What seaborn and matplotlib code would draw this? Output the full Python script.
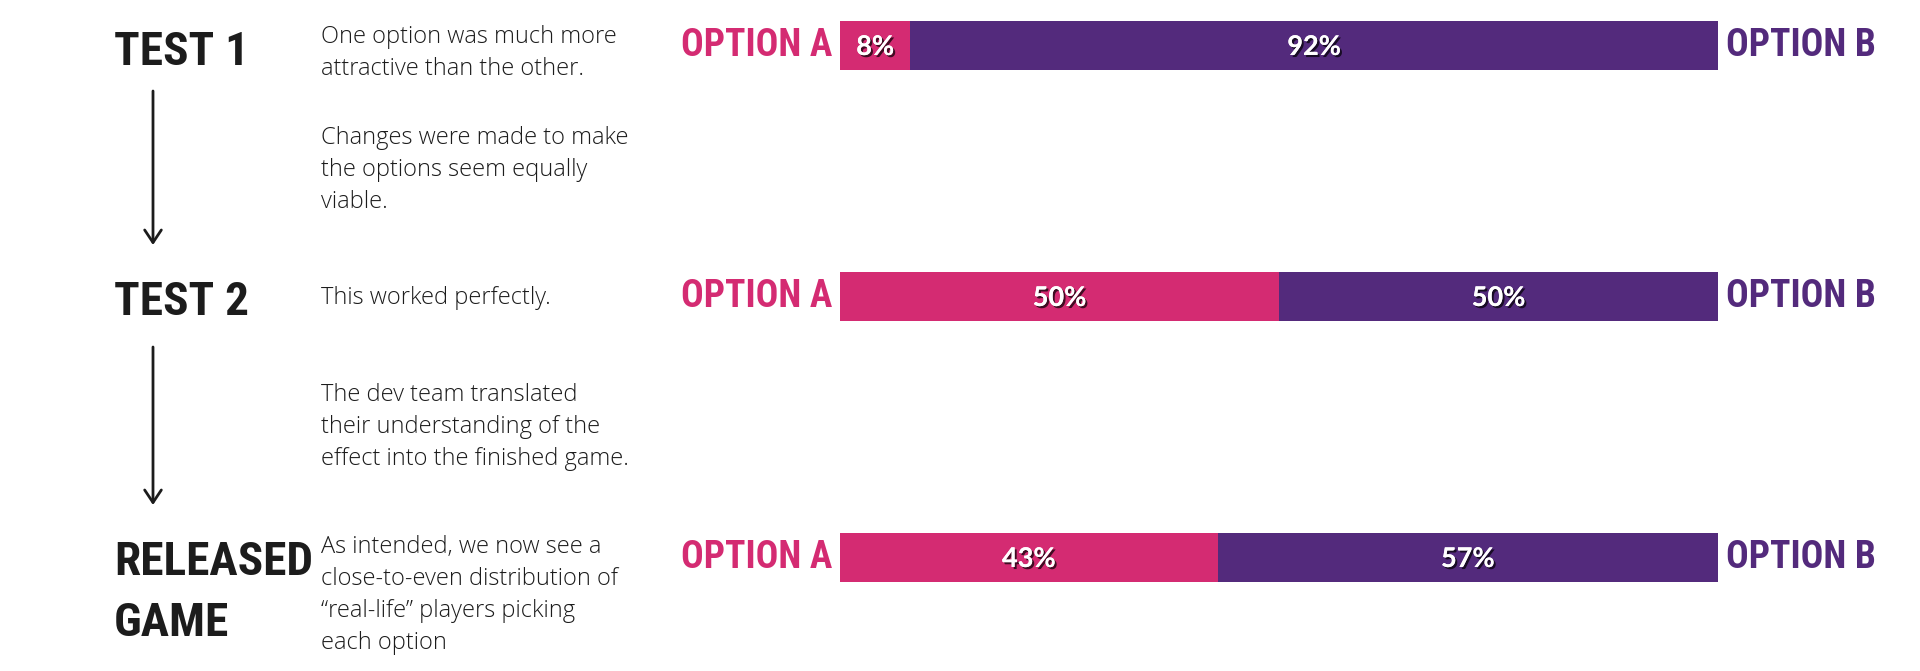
import matplotlib
matplotlib.use("Agg")
import matplotlib.pyplot as plt
import matplotlib.patheffects as pe
from matplotlib.patches import FancyArrowPatch
import pandas as pd
import seaborn as sns

# --- data -------------------------------------------------------------
stages = ["TEST 1", "TEST 2", "RELEASED\nGAME"]
option_a = [8, 50, 43]
option_b = [92, 50, 57]
label_a = "OPTION A"
label_b = "OPTION B"

stage_notes = [
    "One option was much more\nattractive than the other.",
    "This worked perfectly.",
    "As intended, we now see a\nclose-to-even distribution of\n\u201creal-life\u201d players picking\neach option",
]
step_notes = [
    "Changes were made to make\nthe options seem equally\nviable.",
    "The dev team translated\ntheir understanding of the\neffect into the finished game.",
]

PINK = "#D42B72"
PURPLE = "#532A7C"
INK = "#1C1C1C"

sns.set_style("white")
plt.rcParams["font.family"] = ["DejaVu Sans"]

HEAD_FONT = ["Roboto Condensed", "Liberation Sans"]
BODY_FONT = ["Open Sans", "DejaVu Sans"]
PCT_FONT = ["Lato", "DejaVu Sans"]

W, H = 1920, 671
fig = plt.figure(figsize=(W / 100, H / 100), dpi=100, facecolor="white")


def fx(px):
    return px / W


def fy(py):
    return 1 - py / H


# layout of each row (pixels from top)
bar_top = [21, 272, 533]
bar_h = 49
bar_left, bar_w = 840, 878
head_base = [65, 315, 575]
note_base = [43, 304, 553]
step_base = [144, 401]
arrows = [(91, 245), (347, 505)]
line_gap = 32

for i, stage in enumerate(stages):
    ax = fig.add_axes([fx(bar_left), fy(bar_top[i] + bar_h), bar_w / W, bar_h / H])
    df = pd.DataFrame({"stage": [stage], "a": [option_a[i]],
                       "total": [option_a[i] + option_b[i]]})
    sns.barplot(data=df, x="total", y="stage", color=PURPLE, width=1,
                saturation=1, linewidth=0, orient="h", ax=ax)
    sns.barplot(data=df, x="a", y="stage", color=PINK, width=1,
                saturation=1, linewidth=0, orient="h", ax=ax)
    ax.set_xlim(0, 100)
    ax.set_ylim(0.5, -0.5)
    ax.axis("off")

    shadow = [pe.withSimplePatchShadow(offset=(1.5, -1.5), shadow_rgbFace="black", alpha=0.7),
              pe.Normal()]
    a, b = option_a[i], option_b[i]
    for xc, v in [(a / 2, a), (a + b / 2, b)]:
        ax.text(xc, 0.03, f"{v}%", ha="center", va="center", color="white",
                fontsize=19.5, fontweight="bold", family=PCT_FONT, path_effects=shadow)

    ax.annotate(label_a, xy=(0, 0.5), xycoords="axes fraction", xytext=(-8, 0),
                textcoords="offset pixels", ha="right", va="center", color=PINK,
                fontsize=27, fontweight="bold", fontstretch="condensed", family=HEAD_FONT)
    ax.annotate(label_b, xy=(1, 0.5), xycoords="axes fraction", xytext=(8, 0),
                textcoords="offset pixels", ha="left", va="center", color=PURPLE,
                fontsize=27, fontweight="bold", fontstretch="condensed", family=HEAD_FONT)

    # stage heading
    for j, line in enumerate(stage.split("\n")):
        fig.text(fx(114), fy(head_base[i] + j * 61), line, ha="left", va="baseline",
                 color=INK, fontsize=34, fontweight="bold", fontstretch="condensed",
                 family=HEAD_FONT)

    # stage note
    for j, line in enumerate(stage_notes[i].split("\n")):
        fig.text(fx(321), fy(note_base[i] + j * line_gap), line, ha="left",
                 va="baseline", color=INK, fontsize=17, fontweight="light",
                 family=BODY_FONT)

# notes between stages and the arrows
for k, note in enumerate(step_notes):
    for j, line in enumerate(note.split("\n")):
        fig.text(fx(321), fy(step_base[k] + j * line_gap), line, ha="left",
                 va="baseline", color=INK, fontsize=17, fontweight="light",
                 family=BODY_FONT)
    y0, y1 = arrows[k]
    fig.add_artist(FancyArrowPatch((fx(153), fy(y0)), (fx(153), fy(y1)),
                                   transform=fig.transFigure,
                                   arrowstyle="->,head_length=0.45,head_width=0.3",
                                   mutation_scale=20, lw=2, color=INK,
                                   shrinkA=0, shrinkB=0))

fig.savefig("out.png", dpi=100, facecolor="white")
